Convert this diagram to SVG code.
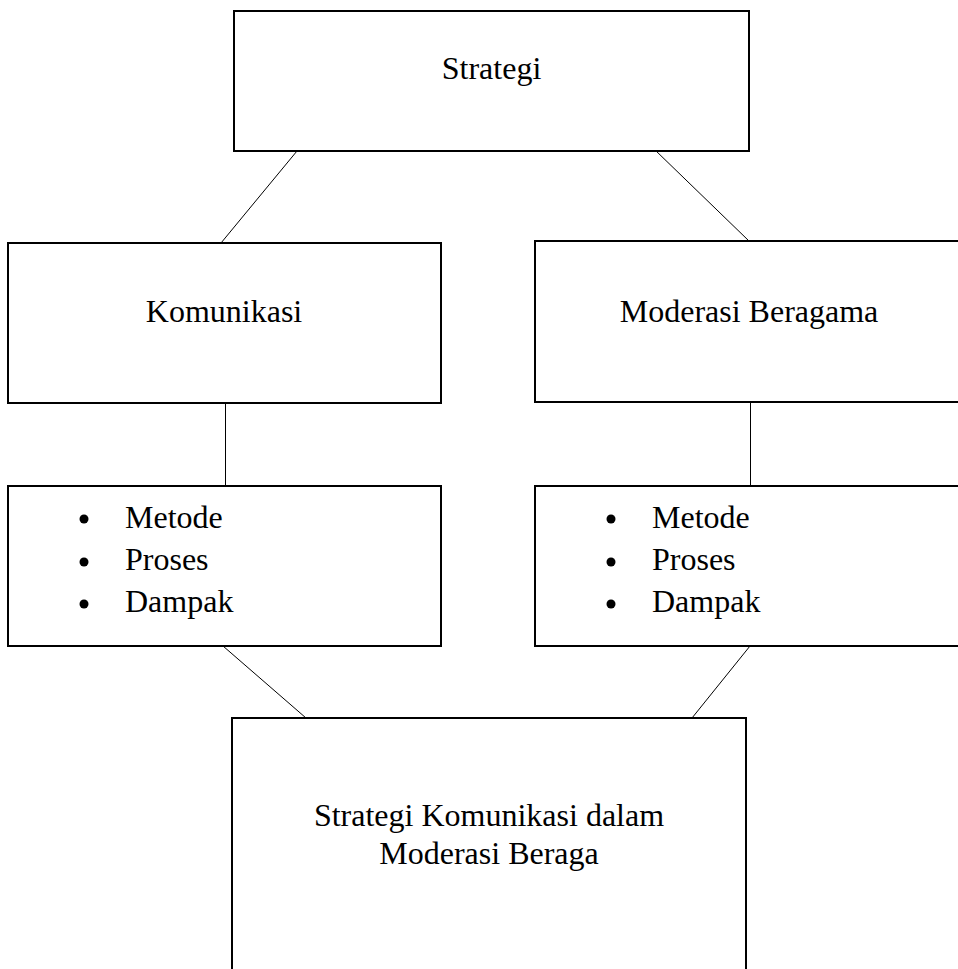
<svg xmlns="http://www.w3.org/2000/svg" width="958" height="969" viewBox="0 0 958 969">
<style>
.box{fill:#fff;stroke:#000;stroke-width:2}
.ln{stroke:#000;stroke-width:1;fill:none}
.t{font-family:"Liberation Serif","Times New Roman",serif;font-size:32px;fill:#000}
.c{text-anchor:middle}
.dot{fill:#000}
</style>
<rect width="958" height="969" fill="#fff"/>
<g id="connectors">
<line class="ln" x1="297" y1="151" x2="221" y2="243"/>
<line class="ln" x1="654" y1="149" x2="749" y2="241"/>
<line class="ln" x1="225.5" y1="404" x2="225.5" y2="486"/>
<line class="ln" x1="750.5" y1="402" x2="750.5" y2="486"/>
<line class="ln" x1="223" y1="646" x2="306" y2="718"/>
<line class="ln" x1="750" y1="646" x2="692" y2="718"/>
</g>
<g id="strategi">
<rect class="box" x="234" y="11" width="515" height="140"/>
<text class="t c" x="491.5" y="79">Strategi</text>
</g>
<g id="komunikasi">
<rect class="box" x="8" y="243" width="433" height="160"/>
<text class="t c" x="224" y="322">Komunikasi</text>
</g>
<g id="moderasi">
<rect class="box" x="535" y="241" width="440" height="161"/>
<text class="t c" x="749" y="322">Moderasi Beragama</text>
</g>
<g id="list-left">
<rect class="box" x="8" y="486" width="433" height="160"/>
<circle class="dot" cx="84" cy="519" r="4.5"/>
<circle class="dot" cx="84" cy="562" r="4.5"/>
<circle class="dot" cx="84" cy="604" r="4.5"/>
<text class="t" x="125" y="528">Metode</text>
<text class="t" x="125" y="570">Proses</text>
<text class="t" x="125" y="612">Dampak</text>
</g>
<g id="list-right">
<rect class="box" x="535" y="486" width="440" height="160"/>
<circle class="dot" cx="611" cy="519" r="4.5"/>
<circle class="dot" cx="611" cy="562" r="4.5"/>
<circle class="dot" cx="611" cy="604" r="4.5"/>
<text class="t" x="652" y="528">Metode</text>
<text class="t" x="652" y="570">Proses</text>
<text class="t" x="652" y="612">Dampak</text>
</g>
<g id="hasil">
<rect class="box" x="232" y="718" width="514" height="300"/>
<text class="t c" x="489" y="826">Strategi Komunikasi dalam</text>
<text class="t c" x="489" y="864">Moderasi Beraga</text>
</g>
</svg>
